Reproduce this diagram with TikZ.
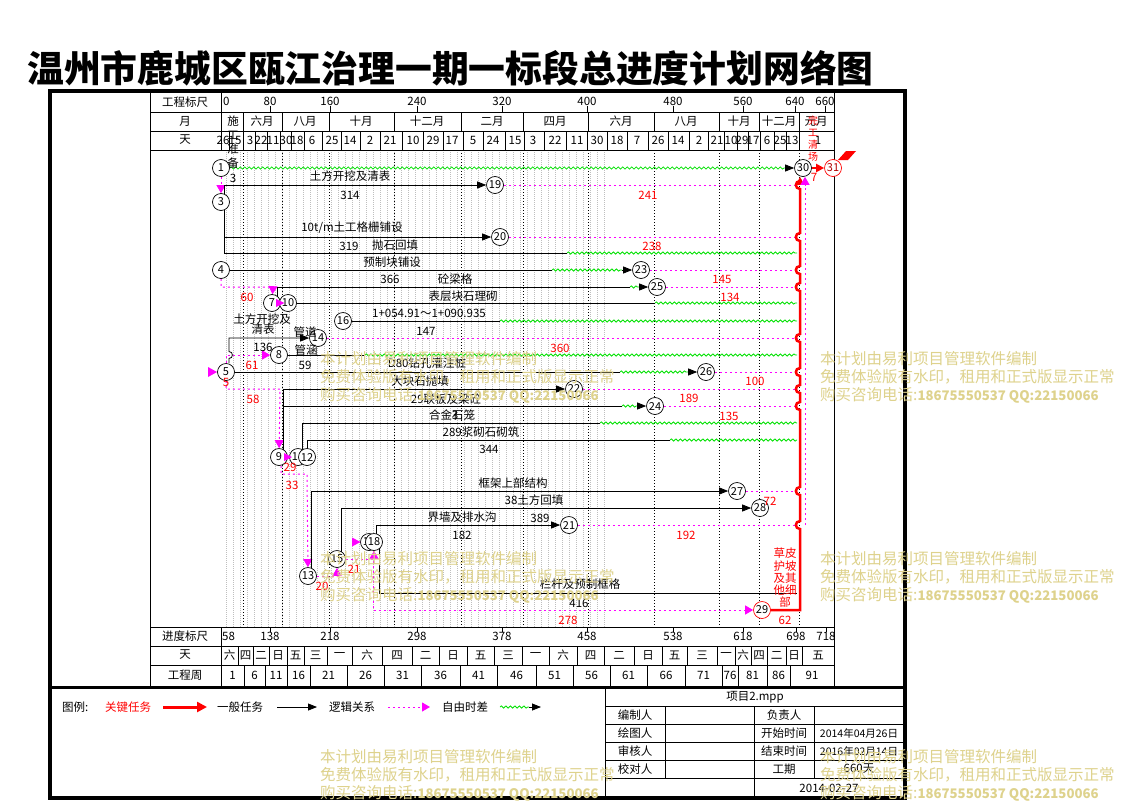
\documentclass[tikz,border=0pt]{standalone}
\usepackage{fontspec}
\setmainfont{Noto Sans CJK SC}
\usetikzlibrary{arrows.meta,decorations.pathmorphing}
\definecolor{mag}{RGB}{255,0,255}
\definecolor{grn}{RGB}{0,225,0}
\definecolor{wmc}{RGB}{222,210,140}
\definecolor{gridg}{RGB}{190,190,190}
\pgfdeclarelayer{bg}
\pgfsetlayers{bg,main}
\tikzset{
 lbl/.style={inner sep=0pt, font=\fontsize{11.5}{12}\selectfont},
 rl/.style={lbl, text=red},
 ev/.style={circle, draw, line width=0.7pt, fill=white, minimum size=17pt, inner sep=0pt, font=\fontsize{11}{12}\selectfont},
 evr/.style={ev, draw=red},
 task/.style={draw=black, line width=0.8pt},
 tarr/.style={task, -{Triangle[length=9pt,width=7pt]}},
 logic/.style={draw=mag, line width=1pt, dash pattern=on 2pt off 3pt},
 larr/.style={logic, -{Triangle[length=8pt,width=9pt]}},
 flt/.style={draw=grn, line width=0.8pt, decorate, decoration={snake, amplitude=1.1pt, segment length=4.5pt}},
 crit/.style={draw=red, line width=2.5pt},
 bdot/.style={draw=black, line width=0.6pt, dash pattern=on 1pt off 2pt},
 gdot/.style={draw=gridg, line width=0.5pt, dash pattern=on 1pt off 1pt},
 wmk/.style={text=wmc, inner sep=0pt, anchor=west, font=\fontsize{15.5}{18}\selectfont},
 rule/.style={draw=black, line width=0.8pt},
}
\begin{document}
\begin{tikzpicture}[x=1pt,y=-1pt]
\useasboundingbox (0,0) rectangle (1123,803);

% background and grid
\begin{pgfonlayer}{bg}
\fill[white] (0,0) rectangle (1123,803);
\foreach \x in {226,233,...,610} \draw[gdot] (\x,150) -- (\x,627);
\foreach \x in {243,282,329,394,461,523,588,654,719,759,799} \draw[bdot] (\x,150) -- (\x,627);
\end{pgfonlayer}

% title
\node[anchor=west, inner sep=0pt, font=\fontsize{36.8}{40}\selectfont\bfseries] (title) at (27,68) {温州市鹿城区瓯江治理一期一标段总进度计划网络图};

% frame and table
\draw[line width=4pt] (50,90.5) rectangle (905,798);
\draw[rule] (150,92) -- (150,686);
\draw[rule] (834,92) -- (834,686);
\foreach \y in {112,131,150,627,646,665} \draw[rule] (150,\y) -- (834,\y);
\draw[rule] (221,92) -- (221,150);
\draw[rule] (221,627) -- (221,686);
\draw[line width=3pt] (50,687) -- (905,687);

% header labels
\node[lbl] (h1) at (185,102) {工程标尺};
\node[lbl] (h2) at (185,121) {月};
\node[lbl] (h3) at (185,140) {天};
\node[lbl] (h4) at (185,636) {进度标尺};
\node[lbl] (h5) at (185,655) {天};
\node[lbl] (h6) at (185,675) {工程周};

% top scale
\node[lbl, anchor=west] (s0) at (223,101) {0};
\foreach \x/\v in {270/80,330/160,417/240,502/320,587/400,673/480,743/560,795/640,825/660} {
 \node[lbl] (s\v) at (\x,101) {\v};
 \draw[rule] (\x,106) -- (\x,112);
}
% months
\foreach \x in {243,282,329,394,461,523,588,654,719,759,799} \draw[rule] (\x,112) -- (\x,131);
\foreach \x/\lab [count=\i] in {262/六月,305/八月,361/十月,427/十二月,492/二月,555/四月,621/六月,686/八月,739/十月,779/十二月,816/元月}
 \node[lbl] (mo\i) at (\x,121) {\lab};
% days
\foreach \x in {229,243,255,267,280,291,304,322,341,360,380,402,423,443,463,483,505,524,544,566,587,607,627,648,668,689,708,724,737,748,760,774,786,799} \draw[rule] (\x,131) -- (\x,150);
\foreach \x/\lab [count=\i] in {223/26,235/15,250/3,261/22,273/11,286/30,297/18,312/6,332/25,350/14,370/2,390/21,413/10,433/29,452/17,473/5,493/24,515/15,533/3,555/22,577/11,597/30,617/18,637/7,658/26,678/14,699/2,717/21,731/10,742/29,753/17,767/6,780/25,792/13,818/1}
 \node[lbl] (dy\i) at (\x,140) {\lab};

% bottom scale
\node[lbl, anchor=west] (p58) at (222,636) {58};
\foreach \x/\v in {270/138,330/218,417/298,502/378,587/458,673/538,743/618,796/698,826/718} {
 \node[lbl] (p\v) at (\x,636) {\v};
 \draw[rule] (\x,627) -- (\x,632);
}
\foreach \x in {238,253,269,287,304,327,352,382,412,439,467,494,522,549,577,604,634,662,687,717,735,751,767,786,802} \draw[rule] (\x,646) -- (\x,665);
\foreach \x/\lab [count=\i] in {229.5/六,245.5/四,261/二,278/日,295.5/五,315.5/三,339.5/一,367/六,397/四,425.5/二,453/日,480.5/五,508/三,535.5/一,563/六,590.5/四,619/二,648/日,674.5/五,702/三,726/一,743/六,759/四,776.5/二,794/日,818/五}
 \node[lbl] (wd\i) at (\x,655) {\lab};
\foreach \x in {244,265,287,310,347,384,421,460,497,536,573,610,647,685,722,738,767,790} \draw[rule] (\x,665) -- (\x,686);
\foreach \x/\lab [count=\i] in {232.5/1,254.5/6,276/11,298.5/16,328.5/21,365.5/26,402.5/31,440.5/36,478.5/41,516.5/46,554.5/51,591.5/56,628.5/61,666/66,703.5/71,730/76,752.5/81,778.5/86,812/91}
 \node[lbl] (wk\i) at (\x,675) {\lab};

% legend
\node[lbl, anchor=west] (lg0) at (62,707) {图例:};
\node[rl, anchor=west] (lg1) at (105,707) {关键任务};
\coordinate (la1) at (163,707); \coordinate (la2) at (207,707);
\draw[crit, line width=3pt, -{Triangle[length=10pt,width=10pt]}] (la1) -- (la2);
\node[lbl, anchor=west] (lg2) at (217,707) {一般任务};
\coordinate (lb1) at (277,707); \coordinate (lb2) at (317,707);
\draw[tarr] (lb1) -- (lb2);
\node[lbl, anchor=west] (lg3) at (329,707) {逻辑关系};
\coordinate (lc1) at (388,707); \coordinate (lc2) at (430,707);
\draw[larr] (lc1) -- (lc2);
\node[lbl, anchor=west] (lg4) at (442,707) {自由时差};
\coordinate (ld1) at (500,707); \coordinate (ld2) at (529,707); \coordinate (ld3) at (541,707);
\draw[flt] (ld1) -- (ld2);
\draw[tarr] (ld2) -- (ld3);

% title block
\draw[rule] (605,687) -- (605,797);
\foreach \y in {706,724,742,760,778} \draw[rule] (605,\y) -- (905,\y);
\draw[rule] (665,706) -- (665,778);
\draw[rule] (754,706) -- (754,797);
\draw[rule] (814,706) -- (814,778);
\node[lbl] (tb0) at (755,697) {项目2.mpp};
\foreach \x/\y/\lab [count=\i] in {635/715/编制人,784/715/负责人,635/733/绘图人,784/733/开始时间,635/751/审核人,784/751/结束时间,635/769/校对人,784/769/工期,829/788/2014-02-27}
 \node[lbl] (tb\i) at (\x,\y) {\lab};
\node[lbl, font=\fontsize{10.5}{12}\selectfont] (tbs) at (859,733) {2014年04月26日};
\node[lbl, font=\fontsize{10.5}{12}\selectfont] (tbe) at (859,751) {2016年02月14日};
\node[lbl] (tbd) at (859,769) {660天};

% event nodes
\node[ev] (n1) at (221,168) {1};
\node[ev] (n3) at (221,202) {3};
\node[ev] (n19) at (495,185) {19};
\node[ev] (n20) at (500,237) {20};
\node[ev] (n4) at (221,270) {4};
\node[ev] (n23) at (641,270) {23};
\node[ev] (n25) at (657,287) {25};
\node[ev] (n7) at (272,303) {7};
\node[ev] (n10) at (288,303) {10};
\node[ev] (n16) at (343,321) {16};
\node[ev] (n14) at (318,338) {14};
\node[ev] (n8) at (279,355) {8};
\node[ev] (n5) at (226,372) {5};
\node[ev] (n26) at (706,372) {26};
\node[ev] (n22) at (574,389) {22};
\node[ev] (n24) at (655,406) {24};
\node[ev] (n9) at (279,457) {9};
\node[ev] (n11) at (298,457) {11};
\node[ev] (n12) at (307,457) {12};
\node[ev] (n27) at (737,491) {27};
\node[ev] (n28) at (760,508) {28};
\node[ev] (n21) at (569,525) {21};
\node[ev] (n13) at (308,576) {13};
\node[ev] (n15) at (337,559) {15};
\node[ev] (n17) at (369,542) {17};
\node[ev] (n18) at (374,542) {18};
\node[evr] (n29) at (762,610) {29};
\node[ev] (n30) at (803,168) {30};
\node[evr, text=red!70!black] (n31) at (833,168) {31};

% free end points at the critical line
\foreach \y/\nm in {185/e19,237/e20,253/e4,270/e23,287/e25,303/e10,321/e16,338/e14,355/e8,372/e26,389/e22,406/e24,423/e11,440/e12,491/e27,525/e21,593/e17}
 \coordinate (\nm) at (797,\y);
\coordinate (c1a) at (786,168);
\coordinate (c4a) at (567,253);
\coordinate (c5a) at (552,270); \coordinate (c5b) at (622,270);
\coordinate (c7a) at (273,287);
\coordinate (c6a) at (630,287); \coordinate (c6b) at (639,287);
\coordinate (c7b) at (655,303);
\coordinate (c8a) at (500,321);
\coordinate (c10a) at (365,355);
\coordinate (c11a) at (620,372); \coordinate (c11b) at (688,372);
\coordinate (c59) at (280,389);
\coordinate (c13a) at (622,406); \coordinate (c13b) at (637,406);
\coordinate (c14a) at (600,423);
\coordinate (c15a) at (670,440);
\coordinate (c913) at (307,474);
\coordinate (c17a) at (742,508);
\coordinate (c30m) at (805,525);

\begin{pgfonlayer}{bg}
% from 1
\draw[flt] (n1.east) -- (c1a);
\draw[tarr] (c1a) -- (n30);
\draw[larr] (n1) -- (n3);
% from 3
\draw[tarr] ([xshift=3pt]n3.center) |- (n19);
\draw[logic] (n19) -- (e19);
\draw[tarr] ([xshift=3pt]n3.center) |- (n20);
\draw[logic] (n20) -- (e20);
\draw[task] ([xshift=3pt]n3.center) |- (c4a);
\draw[flt] (c4a) -- (e4);
% from 4
\draw[task] (n4) -- (c5a);
\draw[flt] (c5a) -- (c5b);
\draw[tarr] (c5b) -- (n23);
\draw[logic] (n23) -- (e23);
\draw[larr] (n4) |- (c7a) -- (n7);
% from 7 / 10
\draw[task] ([xshift=5pt]n7.center) |- (c6a);
\draw[flt] (c6a) -- (c6b);
\draw[tarr] (c6b) -- (n25);
\draw[logic] (n25) -- (e25);
\draw[task] (n10) -- (c7b);
\draw[flt] (c7b) -- (e10);
% from 16
\draw[task] (n16) -- (c8a);
\draw[flt] (c8a) -- (e16);
% from 5
\draw[tarr] ([xshift=3pt]n5.north) -- (229,358.5) .. controls (233.5,358.5) and (233.5,351.5) .. (229,351.5) |- (n14);
\draw[logic] (n14) -- (e14);
\draw[larr] (n5.north) |- (n8);
\draw[task] (n8) -- (c10a);
\draw[flt] (c10a) -- (e8);
\draw[task] (n5) -- (c11a);
\draw[flt] (c11a) -- (c11b);
\draw[tarr] (c11b) -- (n26);
\draw[logic] (n26) -- (e26);
\draw[larr] (n5.south) |- (c59) -- (n9);
% from 9, 11, 12
\draw[tarr] ([xshift=4pt]n9.center) |- (n22);
\draw[logic] (n22) -- (e22);
\draw[task] ([xshift=4pt]n9.center) |- (c13a);
\draw[flt] (c13a) -- (c13b);
\draw[tarr] (c13b) -- (n24);
\draw[logic] (n24) -- (e24);
\draw[task] ([xshift=4pt]n11.center) |- (c14a);
\draw[flt] (c14a) -- (e11);
\draw[task] (n12.center) |- (c15a);
\draw[flt] (c15a) -- (e12);
\draw[larr] ([xshift=2pt]n9.south) |- (c913) -- (n13);
% from 13, 15, 17, 18
\draw[tarr] ([xshift=3pt]n13.center) |- (n27);
\draw[logic] (n27) -- (e27);
\draw[larr] (n13) -| (n15);
\draw[task] ([xshift=4pt]n15.center) |- (c17a);
\draw[tarr] (c17a) -- (n28);
\draw[larr] (n15) -| (n18);
\draw[tarr] ([xshift=2pt]n18.center) |- (n21);
\draw[logic] (n21) -- (e21);
\draw[task] ([xshift=10pt]n17.center) |- (e17);
\draw[larr] ([xshift=4pt]n17.south) |- (n29);
% critical path
\draw[crit, -{Triangle[length=8pt,width=8pt]}] (n29) -- (800,610)
  foreach \h in {525,491,406,389,372,338,287,270,237,185} { -- (800,\h+4) .. controls (794.5,\h+4) and (794.5,\h-4) .. (800,\h-4) }
  -- ([xshift=-3pt]n30.south);
\draw[larr] (c30m) -- ([xshift=2pt]n30.south);
\draw[crit, line width=2pt, -{Triangle[length=8pt,width=8pt]}] (n30) -- (n31);
\end{pgfonlayer}

% small triangles between touching nodes
\fill[mag] (208,367) -- (217,372) -- (208,377) -- cycle;
\fill[mag] (276,299) -- (284.5,303) -- (276,307) -- cycle;
\fill[mag] (284,453) -- (292,457) -- (284,461) -- cycle;
\fill[mag] (352,537.5) -- (360.5,542) -- (352,546.5) -- cycle;
\fill[red] (838,160) -- (846,151) -- (856,151) -- (848,160) -- cycle;

% texts in the network
\node[lbl, align=center, font=\fontsize{11.5}{14}\selectfont] (sgzb) at (233,142) {施\\工\\准\\备};
\node[lbl] (t10t) at (352,228) {10t/m土工格栅铺设};
\foreach \x/\y/\lab [count=\i] in {350/176/土方开挖及清表,350/195/314,349/246/319,395/245/抛石回填,392/262/预制块铺设,390/279/366,455/279/砼梁格,463/296/表层块石理砌,429/313/1+054.91～1+090.935,426/331/147,262/319/土方开挖及,263/329/清表,263/347/136,305/332/管道,306/350/管涵,305/365/59,427/363/D80钻孔灌注桩,420/381/大块石抛填,446/399/29联板及梁砼,452/415/合金石笼,455/415/3,481/432/289浆砌石砌筑,489/449/344,513/483/框架上部结构,534/500/38土方回填,462/517/界墙及排水沟,540/518/389,462/535/182,580/584/栏杆及预制框格,579/603/416,233/178/3}
 \node[lbl] (b\i) at (\x,\y) {\lab};
\foreach \x/\y/\lab [count=\i] in {648/195/241,652/246/238,722/279/145,730/297/134,247/297/60,560/348/360,252/365/61,226/382/5,755/381/100,689/398/189,253/399/58,729/416/135,290/467/29,292/485/33,770/501/72,686/535/192,354/569/21,322/586/20,568/620/278,785/620/62,814/177/7}
 \node[rl] (r\i) at (\x,\y) {\lab};
\node[rl, align=center, font=\fontsize{11.5}{12.3}\selectfont] (cpwz) at (785,578) {草皮\\护坡\\及其\\他细\\部};
\node[rl, align=center, font=\fontsize{10}{12}\selectfont] (wgqc) at (813,139) {完\\工\\清\\场};

% watermarks
\foreach \x/\y [count=\i] in {320/359,820/359,320/559,820/559,320/757,820/757} {
 \node[wmk] (wa\i) at (\x,\y) {本计划由易利项目管理软件编制};
 \node[wmk] (wb\i) at (\x,\y+18) {免费体验版有水印，租用和正式版显示正常};
 \node[wmk] (wc\i) at (\x,\y+36) {购买咨询电话:{\fontsize{13.2}{18}\selectfont\bfseries 18675550537 QQ:22150066}};
}
\end{tikzpicture}
\end{document}
